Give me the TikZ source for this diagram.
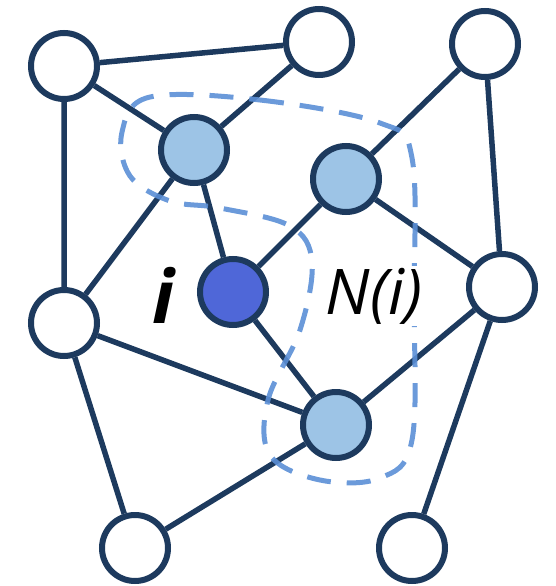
\documentclass[tikz,border=0pt]{standalone}
\usepackage{fontspec}
\setmainfont{Open Sans}
\definecolor{navy}{HTML}{1D3A5E}
\definecolor{nbrblue}{HTML}{9DC4E6}
\definecolor{ctrblue}{HTML}{4F67D8}
\definecolor{dashblue}{HTML}{5B8FD6}
\begin{document}
\begin{tikzpicture}[x=1pt, y=-1pt,
    vtx/.style={circle, draw=navy, line width=6pt, minimum size=66pt, inner sep=0pt, fill=white},
    nbr/.style={vtx, fill=nbrblue},
    ctr/.style={vtx, fill=ctrblue},
    edge/.style={navy, line width=5.5pt}]
    \useasboundingbox (0,0) rectangle (555,586);
    \node[vtx] (a) at (64,66) {};
    \node[vtx] (b) at (319,42) {};
    \node[vtx] (c) at (485,44) {};
    \node[nbr] (d) at (194,150) {};
    \node[nbr] (e) at (346,179) {};
    \node[ctr] (f) at (233,292) {};
    \node[vtx] (g) at (502,287) {};
    \node[vtx] (h) at (64,323) {};
    \node[nbr] (n) at (336,425) {};
    \node[vtx] (j) at (135,548) {};
    \node[vtx] (k) at (412,548) {};
    % edges
    \draw[edge] (a)--(b) (a)--(d) (a)--(h) (b)--(d) (c)--(e) (c)--(g);
    \draw[edge] (d)--(f) (d)--(h) (e)--(f) (e)--(g) (f)--(n);
    \draw[edge] (h)--(n) (g)--(n) (h)--(j) (j)--(n) (k)--(g);
    % neighbourhood N(i)
    \draw[dashblue, line width=5pt, dash pattern=on 24pt off 16pt, opacity=.9]
        plot[smooth cycle, tension=.6] coordinates {(150,97) (260,100) (380,123) (412,158)
        (414,300) (412,440) (380,478) (320,480) (270,455) (268,400) (300,330) (312,262)
        (290,226) (220,208) (170,201) (130,176) (122,132)};
    \node[font=\fontsize{74}{80}\selectfont\bfseries\itshape, anchor=base] (lbli) at (163,323) {i};
    \node[font=\fontsize{63}{70}\selectfont\itshape, anchor=base, fill=white, inner sep=2pt] (lbln) at (374,314) {N(i)};
\end{tikzpicture}
\end{document}
